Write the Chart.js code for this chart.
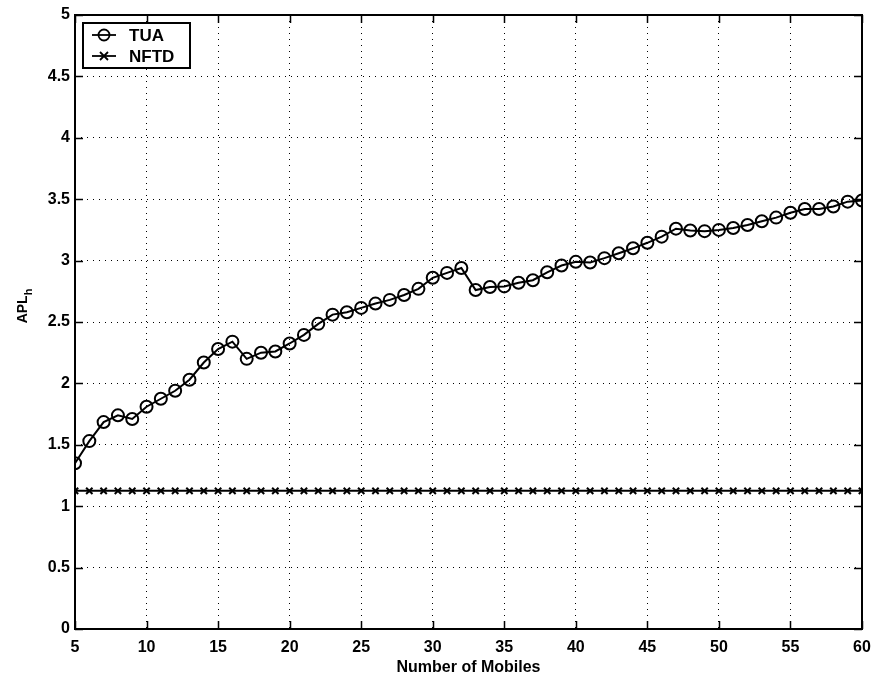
<!DOCTYPE html>
<html>
<head>
<meta charset="utf-8">
<script src="https://cdn.jsdelivr.net/npm/chart.js@4.4.1/dist/chart.umd.min.js"></script>
<style>
  html, body { margin: 0; padding: 0; background: #fff; }
  #wrap { width: 876px; height: 677px; }
</style>
</head>
<body>
<div id="wrap"><canvas id="grafico"></canvas></div>
<script>
// dados
const mobiles = [5, 6, 7, 8, 9, 10, 11, 12, 13, 14, 15, 16, 17, 18, 19, 20, 21, 22, 23, 24, 25, 26, 27, 28, 29, 30,
  31, 32, 33, 34, 35, 36, 37, 38, 39, 40, 41, 42, 43, 44, 45, 46, 47, 48, 49, 50, 51, 52, 53, 54, 55, 56, 57, 58, 59, 60];
const tua = [1.35, 1.53, 1.685, 1.74, 1.71, 1.81, 1.875, 1.94, 2.03, 2.17, 2.28, 2.34, 2.20, 2.25, 2.26, 2.325,
  2.395, 2.485, 2.56, 2.58, 2.615, 2.65, 2.68, 2.72, 2.77, 2.86, 2.90, 2.94, 2.76, 2.785, 2.79, 2.82, 2.84, 2.905,
  2.96, 2.99, 2.985, 3.02, 3.06, 3.10, 3.145, 3.195, 3.26, 3.245, 3.24, 3.25, 3.265, 3.29, 3.32, 3.35, 3.39, 3.42,
  3.42, 3.44, 3.48, 3.49];
const nftd = [1.125, 1.125, 1.125, 1.125, 1.125, 1.125, 1.125, 1.125, 1.125, 1.125, 1.125, 1.125, 1.125, 1.125,
  1.125, 1.125, 1.125, 1.125, 1.125, 1.125, 1.125, 1.125, 1.125, 1.125, 1.125, 1.125, 1.125, 1.125, 1.125, 1.125,
  1.125, 1.125, 1.125, 1.125, 1.125, 1.125, 1.125, 1.125, 1.125, 1.125, 1.125, 1.125, 1.125, 1.125, 1.125, 1.125,
  1.125, 1.125, 1.125, 1.125, 1.125, 1.125, 1.125, 1.125, 1.125, 1.125];
const xTicks = [5, 10, 15, 20, 25, 30, 35, 40, 45, 50, 55, 60];
const yTicks = [0, 0.5, 1, 1.5, 2, 2.5, 3, 3.5, 4, 4.5, 5];

const fonte = '"Liberation Sans", Arial, sans-serif';

// moldura, ticks para dentro, legenda e título do eixo y (estilo MATLAB)
const estiloMatlab = {
  id: 'estiloMatlab',
  afterDraw(chart) {
    const { ctx, chartArea: a, scales } = chart;
    ctx.save();
    ctx.strokeStyle = '#000';
    ctx.lineWidth = 2;
    ctx.strokeRect(a.left, a.top, a.right - a.left, a.bottom - a.top);

    const t = 8;
    ctx.lineWidth = 1.5;
    ctx.beginPath();
    xTicks.forEach(v => {
      const px = Math.round(scales.x.getPixelForValue(v)) + 0.5;
      ctx.moveTo(px, a.bottom); ctx.lineTo(px, a.bottom - t);
      ctx.moveTo(px, a.top); ctx.lineTo(px, a.top + t);
    });
    yTicks.forEach(v => {
      const py = Math.round(scales.y.getPixelForValue(v)) + 0.5;
      ctx.moveTo(a.left, py); ctx.lineTo(a.left + t, py);
      ctx.moveTo(a.right, py); ctx.lineTo(a.right - t, py);
    });
    ctx.stroke();

    // legenda
    const bx = a.left + 8, by = a.top + 8, bw = 107, bh = 45;
    ctx.fillStyle = '#fff';
    ctx.fillRect(bx, by, bw, bh);
    ctx.lineWidth = 2;
    ctx.strokeRect(bx, by, bw, bh);
    const linhas = [
      { label: 'TUA', y: by + 12, marca: 'circulo' },
      { label: 'NFTD', y: by + 33, marca: 'x' }
    ];
    ctx.font = 'bold 17px ' + fonte;
    ctx.textBaseline = 'middle';
    ctx.textAlign = 'left';
    linhas.forEach(l => {
      ctx.lineWidth = 1.8;
      ctx.beginPath();
      ctx.moveTo(bx + 9, l.y); ctx.lineTo(bx + 33, l.y);
      ctx.stroke();
      const cx = bx + 21;
      ctx.beginPath();
      if (l.marca === 'circulo') {
        ctx.arc(cx, l.y, 5.5, 0, Math.PI * 2);
      } else {
        ctx.moveTo(cx - 4, l.y - 4); ctx.lineTo(cx + 4, l.y + 4);
        ctx.moveTo(cx - 4, l.y + 4); ctx.lineTo(cx + 4, l.y - 4);
      }
      ctx.stroke();
      ctx.fillStyle = '#000';
      ctx.fillText(l.label, bx + 46, l.y + 1);
    });

    // título do eixo y com subscrito
    ctx.translate(22, 306);
    ctx.rotate(-Math.PI / 2);
    ctx.font = 'bold 14px ' + fonte;
    ctx.textBaseline = 'alphabetic';
    const w1 = ctx.measureText('APL').width;
    ctx.font = 'bold 11px ' + fonte;
    const w2 = ctx.measureText('h').width;
    const x0 = -(w1 + w2) / 2;
    ctx.font = 'bold 14px ' + fonte;
    ctx.fillText('APL', x0, 5);
    ctx.font = 'bold 11px ' + fonte;
    ctx.fillText('h', x0 + w1, 10);
    ctx.restore();
  }
};

const ctx = document.getElementById('grafico').getContext('2d');
const grafico = new Chart(ctx, {
  type: 'line',
  data: {
    datasets: [
      {
        label: 'TUA',
        data: mobiles.map((m, i) => ({ x: m, y: tua[i] })),
        borderColor: '#000',
        borderWidth: 2,
        pointStyle: 'circle',
        pointRadius: 6,
        pointBorderWidth: 2,
        pointBackgroundColor: 'rgba(0,0,0,0)',
        pointBorderColor: '#000',
        tension: 0
      },
      {
        label: 'NFTD',
        data: mobiles.map((m, i) => ({ x: m, y: nftd[i] })),
        borderColor: '#000',
        borderWidth: 2,
        pointStyle: 'crossRot',
        pointRadius: 4.5,
        pointBorderWidth: 2,
        pointBorderColor: '#000',
        tension: 0
      }
    ]
  },
  options: {
    responsive: true,
    maintainAspectRatio: false,
    animation: false,
    layout: { padding: { top: 15, right: 14, left: 0, bottom: 0 } },
    plugins: {
      legend: { display: false },
      tooltip: { enabled: false }
    },
    scales: {
      x: {
        type: 'linear',
        min: 5,
        max: 60,
        afterBuildTicks: s => { s.ticks = xTicks.map(v => ({ value: v })); },
        afterFit: s => { s.height = 48; s.paddingLeft = 0; s.paddingRight = 0; },
        grid: { color: '#000', lineWidth: 1, drawTicks: false },
        border: { display: false, dash: [1, 5] },
        ticks: { color: '#000', padding: 9, maxRotation: 0, callback: v => String(v),
          font: { family: fonte, size: 16, weight: 'bold' } },
        title: { display: true, text: 'Number of Mobiles', color: '#000', padding: { top: 2, bottom: 0 },
          font: { family: fonte, size: 16, weight: 'bold' } }
      },
      y: {
        min: 0,
        max: 5,
        afterBuildTicks: s => { s.ticks = yTicks.map(v => ({ value: v })); },
        afterFit: s => { s.width = 75; s.paddingTop = 0; s.paddingBottom = 0; },
        grid: { color: '#000', lineWidth: 1, drawTicks: false },
        border: { display: false, dash: [1, 5] },
        ticks: { color: '#000', padding: 5, callback: v => String(v),
          font: { family: fonte, size: 16, weight: 'bold' } }
      }
    }
  },
  plugins: [estiloMatlab]
});
</script>
</body>
</html>
